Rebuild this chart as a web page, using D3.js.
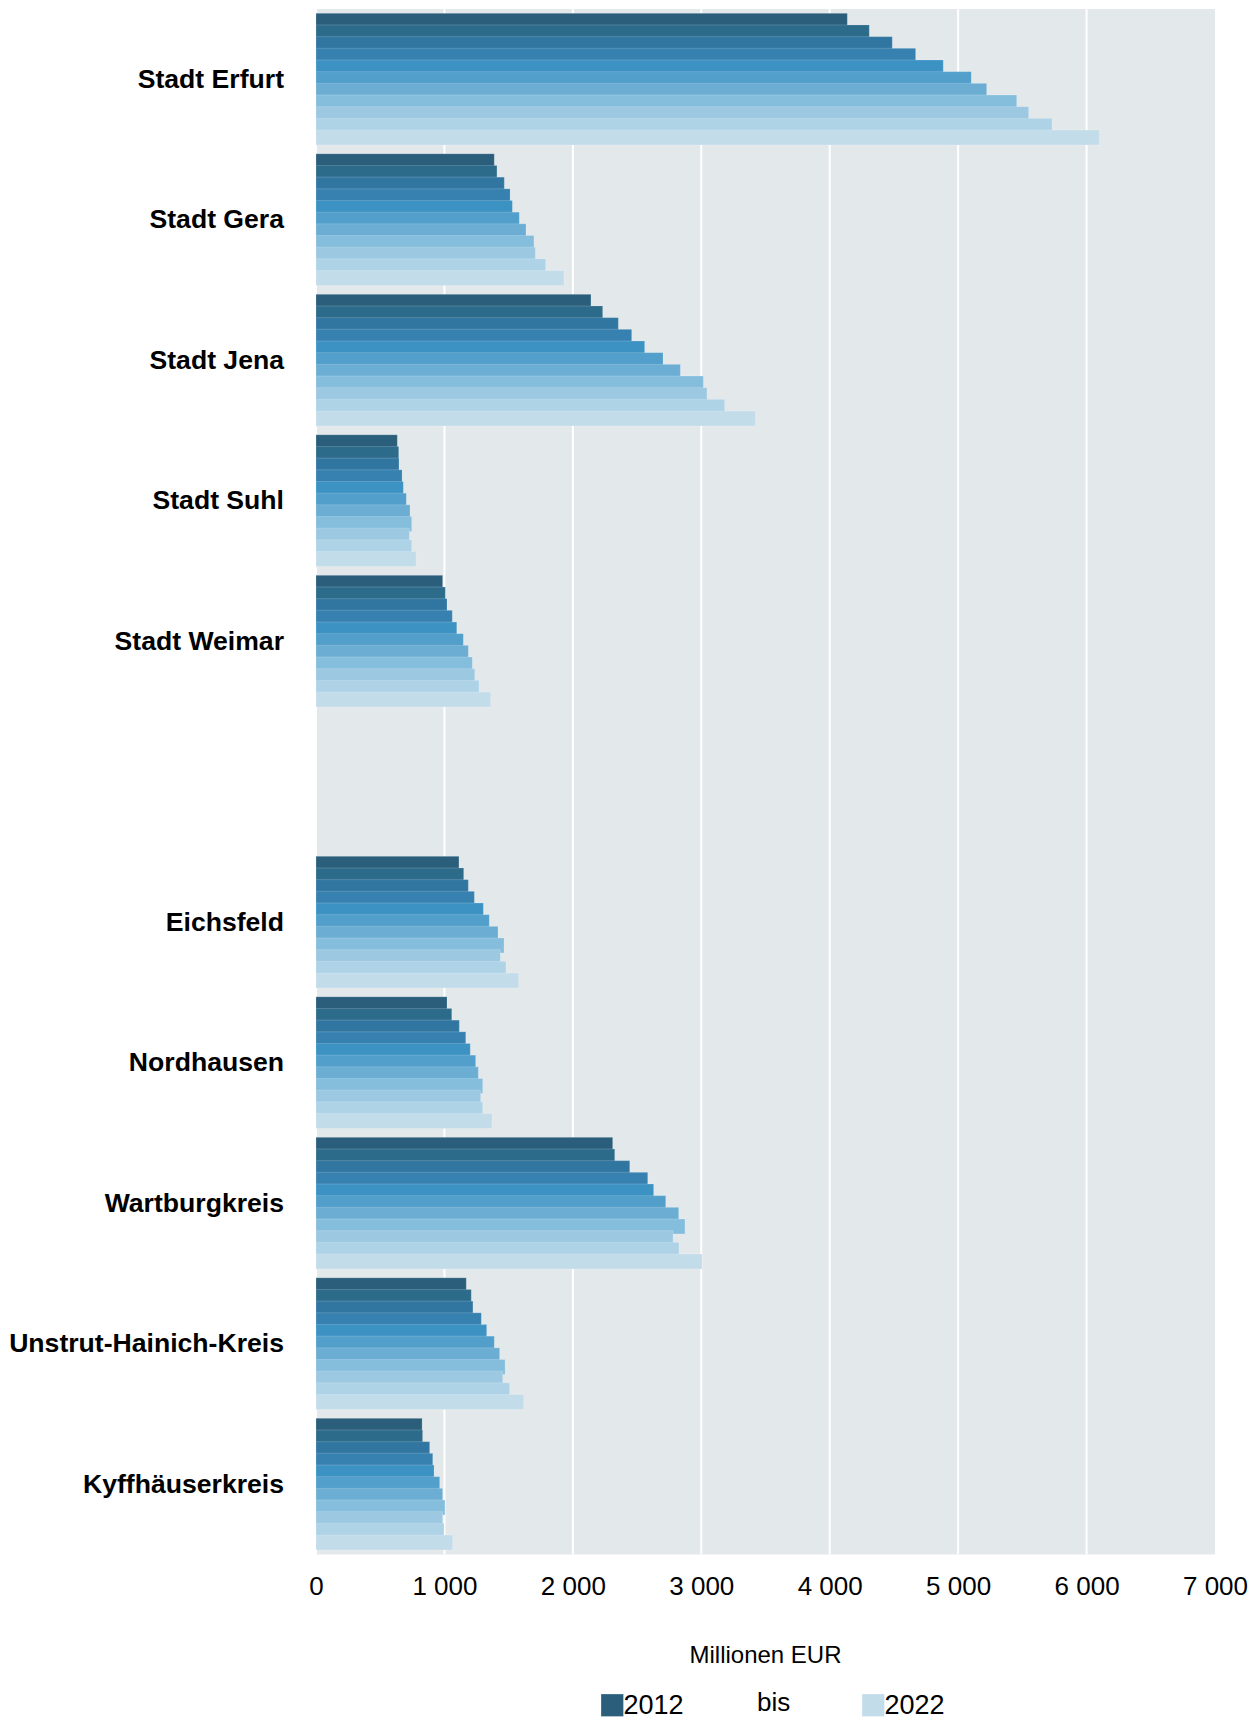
<!DOCTYPE html>
<html>
<head>
<meta charset="utf-8">
<script src="https://cdn.jsdelivr.net/npm/d3@7"></script>
<style>
  body { margin: 0; background: #fff; }
  svg { display: block; font-family: "Liberation Sans", Arial, sans-serif; }
  .region { font-weight: bold; font-size: 26.6px; fill: #000; }
  .tick text { font-size: 26px; fill: #000; }
</style>
</head>
<body>
<svg id="chart" width="1259" height="1720"></svg>
<script>
// categories (the empty one is the gap between cities and districts)
const regions = [
  "Stadt Erfurt", "Stadt Gera", "Stadt Jena", "Stadt Suhl", "Stadt Weimar", "",
  "Eichsfeld", "Nordhausen", "Wartburgkreis", "Unstrut-Hainich-Kreis", "Kyffhäuserkreis"
];
const years = [2012, 2013, 2014, 2015, 2016, 2017, 2018, 2019, 2020, 2021, 2022];

// Millionen EUR, 2012 .. 2022
const erfurt = [4137, 4308, 4487, 4669, 4884, 5102, 5222, 5456, 5549, 5731, 6099];
const gera = [1388, 1409, 1466, 1511, 1529, 1583, 1635, 1697, 1708, 1788, 1931];
const jena = [2141, 2232, 2354, 2458, 2559, 2702, 2837, 3016, 3044, 3182, 3421];
const suhl = [633, 644, 646, 670, 680, 703, 732, 745, 727, 745, 779];
const weimar = [986, 1007, 1020, 1061, 1096, 1147, 1186, 1217, 1236, 1269, 1360];
const eichsfeld = [1113, 1150, 1186, 1233, 1303, 1349, 1417, 1464, 1435, 1479, 1578];
const nordhausen = [1020, 1057, 1116, 1166, 1201, 1243, 1264, 1298, 1282, 1298, 1370];
const wartburgkreis = [2310, 2326, 2443, 2583, 2629, 2723, 2824, 2873, 2780, 2826, 3006];
const unstrut = [1170, 1209, 1222, 1287, 1329, 1388, 1430, 1472, 1454, 1508, 1617];
const kyffhaeuser = [826, 830, 885, 909, 919, 963, 986, 1004, 986, 997, 1064];

const xTicks = [0, 1000, 2000, 3000, 4000, 5000, 6000, 7000];
const yearColors = [
  "#2a5e7b", "#2d6b8b", "#3176a1", "#3681af", "#3c92c3", "#519fca",
  "#6caed3", "#85bedc", "#9cc8e1", "#aed3e7", "#c3dcea"
];

const series = {
  "Stadt Erfurt": erfurt, "Stadt Gera": gera, "Stadt Jena": jena,
  "Stadt Suhl": suhl, "Stadt Weimar": weimar, "Eichsfeld": eichsfeld,
  "Nordhausen": nordhausen, "Wartburgkreis": wartburgkreis,
  "Unstrut-Hainich-Kreis": unstrut, "Kyffhäuserkreis": kyffhaeuser
};

const svg = d3.select("#chart");
const plotTop = 9, plotBottom = 1554.5, plotLeft = 316;

const x = d3.scaleLinear().domain([0, 7000]).range([plotLeft, 1215]);
const y0 = d3.scaleBand().domain(regions).range([plotTop, plotBottom]);
const y1 = d3.scaleBand().domain(years).range([4.3, 132.7]);
const color = d3.scaleOrdinal().domain(years).range(yearColors);
const barH = y1.step() * 1.28;

const de = d3.formatLocale({ decimal: ",", thousands: " ", grouping: [3], currency: ["", " €"] });
const fmt = de.format(",d");

// plot background and grid
svg.append("rect")
  .attr("x", x(0)).attr("y", plotTop)
  .attr("width", x(7000) - x(0)).attr("height", plotBottom - plotTop)
  .attr("fill", "#e3e8eb");

svg.append("g").selectAll("line")
  .data(xTicks.slice(0, -1))
  .join("line")
  .attr("x1", d => x(d)).attr("x2", d => x(d))
  .attr("y1", plotTop).attr("y2", plotBottom)
  .attr("stroke", "#fff").attr("stroke-width", 2);

// bars
const groups = svg.append("g").selectAll("g")
  .data(regions.filter(r => r !== ""))
  .join("g")
  .attr("transform", d => `translate(0, ${y0(d)})`);

groups.selectAll("rect")
  .data(d => series[d].map((v, i) => ({ year: years[i], value: v })))
  .join("rect")
  .attr("x", x(0))
  .attr("y", d => y1(d.year))
  .attr("width", d => x(d.value) - x(0))
  .attr("height", barH)
  .attr("fill", d => color(d.year))
  .attr("stroke", "#fff")
  .attr("stroke-opacity", 0.18)
  .attr("stroke-width", 1);

// region labels
svg.append("g").selectAll("text")
  .data(regions.filter(r => r !== ""))
  .join("text")
  .attr("class", "region")
  .attr("x", 284)
  .attr("y", d => y0(d) + y0.bandwidth() / 2 + 8.5)
  .attr("text-anchor", "end")
  .text(d => d);

// x axis
const axis = svg.append("g")
  .attr("transform", "translate(0, 1595)")
  .call(d3.axisBottom(x).tickValues(xTicks).tickFormat(fmt).tickSize(0));
axis.select(".domain").remove();
axis.selectAll(".tick text")
  .attr("y", 0).attr("dy", null)
  .attr("font-family", null).attr("font-size", null);

svg.append("text")
  .attr("x", (x(0) + x(7000)) / 2)
  .attr("y", 1663)
  .attr("text-anchor", "middle")
  .attr("font-size", 24)
  .text("Millionen EUR");

// legend
const legend = svg.append("g");
const legendItems = [
  { label: years[0], color: color(years[0]), x: 601 },
  { label: years[years.length - 1], color: color(years[years.length - 1]), x: 862 }
];
legend.selectAll("rect")
  .data(legendItems)
  .join("rect")
  .attr("x", d => d.x).attr("y", 1694)
  .attr("width", 22.5).attr("height", 22.5)
  .attr("fill", d => d.color)
  .attr("stroke", "#fff").attr("stroke-opacity", 0.3);
legend.selectAll("text.item")
  .data(legendItems)
  .join("text")
  .attr("class", "item")
  .attr("x", d => d.x + 22.5)
  .attr("y", 1714)
  .attr("font-size", 27)
  .text(d => d.label);
legend.append("text")
  .attr("x", 757).attr("y", 1711)
  .attr("font-size", 26)
  .text("bis");
</script>
</body>
</html>
